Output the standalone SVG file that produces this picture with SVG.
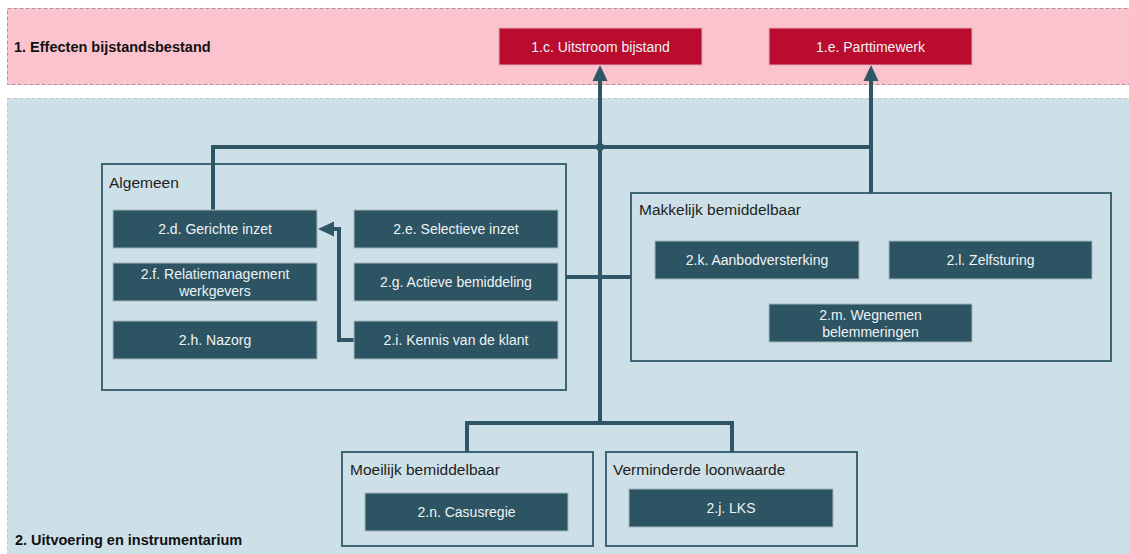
<svg xmlns="http://www.w3.org/2000/svg" width="1129" height="554" viewBox="0 0 1129 554">
<defs>
<style>
.band-pink{fill:#fbc3cd;stroke:#b98e9b;stroke-width:1;stroke-dasharray:4 2}
.band-blue{fill:#cde0e7;stroke:#c2c7cb;stroke-width:1;stroke-dasharray:4 2}
.band-title{font-family:"Liberation Sans",Arial,sans-serif;font-weight:bold;font-size:14.5px;fill:#111}
.red{fill:#ba0c2f;stroke:#e2aab4;stroke-width:1}
.teal{fill:#2d5463;stroke:#a6b6bd;stroke-width:1}
.grp{fill:none;stroke:#3f6674;stroke-width:2}
.grp-title{font-family:"Liberation Sans",Arial,sans-serif;font-size:15.5px;fill:#1e1e1e}
.lbl{font-family:"Liberation Sans",Arial,sans-serif;font-size:14px;fill:#eef3f5;text-anchor:middle}
.conn{fill:none;stroke:#2e5666;stroke-width:4;stroke-linejoin:miter}
</style>
<marker id="arr" viewBox="0 0 16 16" markerWidth="16" markerHeight="16" refX="4" refY="8" orient="auto" markerUnits="userSpaceOnUse">
<path d="M0,0.5 L16,8 L0,15.5 z" fill="#2e5666"/>
</marker>
</defs>

<g id="band1">
<rect class="band-pink" x="7.5" y="8.5" width="1130" height="76"/>
<text class="band-title" x="14" y="52">1. Effecten bijstandsbestand</text>
</g>
<g id="band2">
<rect class="band-blue" x="7.5" y="98.5" width="1130" height="470"/>
<text class="band-title" x="15" y="545">2. Uitvoering en instrumentarium</text>
</g>

<g id="grp-algemeen">
<rect class="grp" x="102" y="164" width="464" height="226"/>
<text class="grp-title" x="109" y="188">Algemeen</text>
</g>
<g id="grp-makkelijk">
<rect class="grp" x="631" y="193" width="480" height="168"/>
<text class="grp-title" x="639" y="215">Makkelijk bemiddelbaar</text>
</g>
<g id="grp-moeilijk">
<rect class="grp" x="342" y="452" width="251" height="94"/>
<text class="grp-title" x="350" y="475">Moeilijk bemiddelbaar</text>
</g>
<g id="grp-verminderd">
<rect class="grp" x="606" y="452" width="251" height="94"/>
<text class="grp-title" x="613" y="475">Verminderde loonwaarde</text>
</g>

<g id="connectors">
<path class="conn" d="M467,452 V423 H732 V452"/>
<path class="conn" d="M600,423 V77" marker-end="url(#arr)"/>
<path class="conn" d="M213,210 V147 H871"/>
<path class="conn" d="M871,193 V77" marker-end="url(#arr)"/>
<path class="conn" d="M566,277 H631"/>
<path class="conn" d="M354,340 H339 V229 H330" marker-end="url(#arr)"/>
<circle cx="600" cy="147" r="4" fill="#2e5666"/>
</g>

<g id="n1c"><rect class="red" x="499" y="28" width="203" height="37"/><text class="lbl" x="600.5" y="51.5">1.c. Uitstroom bijstand</text></g>
<g id="n1e"><rect class="red" x="769" y="28" width="203" height="37"/><text class="lbl" x="870.5" y="51.5">1.e. Parttimewerk</text></g>

<g id="n2d"><rect class="teal" x="113" y="210" width="204" height="38"/><text class="lbl" x="215" y="234">2.d. Gerichte inzet</text></g>
<g id="n2e"><rect class="teal" x="354" y="210" width="204" height="38"/><text class="lbl" x="456" y="234">2.e. Selectieve inzet</text></g>
<g id="n2f"><rect class="teal" x="113" y="263" width="204" height="38"/><text class="lbl" x="215" y="278.5">2.f. Relatiemanagement</text><text class="lbl" x="215" y="296">werkgevers</text></g>
<g id="n2g"><rect class="teal" x="354" y="263" width="204" height="38"/><text class="lbl" x="456" y="287">2.g. Actieve bemiddeling</text></g>
<g id="n2h"><rect class="teal" x="113" y="321" width="204" height="38"/><text class="lbl" x="215" y="345">2.h. Nazorg</text></g>
<g id="n2i"><rect class="teal" x="354" y="321" width="204" height="38"/><text class="lbl" x="456" y="345">2.i. Kennis van de klant</text></g>

<g id="n2k"><rect class="teal" x="655" y="241" width="204" height="38"/><text class="lbl" x="757" y="265">2.k. Aanbodversterking</text></g>
<g id="n2l"><rect class="teal" x="889" y="241" width="203" height="38"/><text class="lbl" x="990.5" y="265">2.l. Zelfsturing</text></g>
<g id="n2m"><rect class="teal" x="769" y="304" width="203" height="38"/><text class="lbl" x="870.5" y="319.5">2.m. Wegnemen</text><text class="lbl" x="870.5" y="337">belemmeringen</text></g>

<g id="n2n"><rect class="teal" x="365" y="493" width="203" height="38"/><text class="lbl" x="466.5" y="517">2.n. Casusregie</text></g>
<g id="n2j"><rect class="teal" x="629" y="489" width="204" height="38"/><text class="lbl" x="731" y="513">2.j. LKS</text></g>
</svg>
